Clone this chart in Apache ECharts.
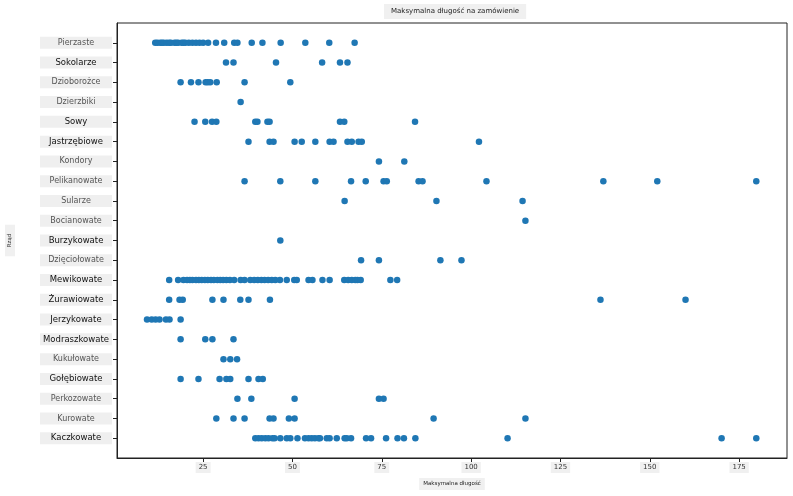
<!DOCTYPE html>
<html>
<head>
<meta charset="utf-8">
<title>Maksymalna długość na zamówienie</title>
<script src="https://cdn.jsdelivr.net/npm/echarts@6/dist/echarts.min.js"></script>
<style>
	html, body { margin: 0; padding: 0; background: #fff; }
	#chart { width: 793px; height: 496px; }
</style>
</head>
<body>
<div id="chart"></div>
<script>
// rzędy (od góry)
var orders = [ 'Pierzaste', 'Sokolarze', 'Dzioborożce', 'Dzierzbiki', 'Sowy',
		'Jastrzębiowe', 'Kondory', 'Pelikanowate', 'Sularze', 'Bocianowate',
		'Burzykowate', 'Dzięciołowate', 'Mewikowate', 'Żurawiowate',
		'Jerzykowate', 'Modraszkowate', 'Kukułowate', 'Gołębiowate',
		'Perkozowate', 'Kurowate', 'Kaczkowate' ];

// maksymalna długość
var pierzaste = [ 11.6, 12.2, 13, 13.5, 14, 14.8, 15.5, 16, 17, 17.5, 18, 19,
		19.5, 20, 21, 22, 23, 24, 25, 26.4, 28.6, 30.9, 33.7, 34.6, 38.6, 41.6,
		46.7, 53.6, 60.3, 67.4 ];
var sokolarze = [ 31.4, 33.5, 45.4, 58.3, 63.3, 65.4 ];
var dzioborozce = [ 18.7, 21.6, 23.7, 25.7, 26.3, 27.0, 28.8, 36.6, 49.4 ];
var dzierzbiki = [ 35.5 ];
var sowy = [ 22.6, 25.6, 27.5, 28.7, 39.6, 40.2, 43.0, 43.6, 63.3, 64.5, 84.3 ];
var jastrzebiowe = [ 37.7, 43.6, 44.7, 50.6, 52.6, 56.4, 60.4, 61.5, 65.4,
		66.6, 68.5, 69.4, 102.2 ];
var kondory = [ 74.2, 81.3 ];
var pelikanowate = [ 36.6, 46.6, 56.4, 66.4, 70.5, 75.5, 76.4, 85.3, 86.4,
		104.3, 137.0, 152.1, 179.8 ];
var sularze = [ 64.6, 90.3, 114.4 ];
var bocianowate = [ 115.2 ];
var burzykowate = [ 46.6 ];
var dzieciolowate = [ 69.2, 74.2, 91.4, 97.3 ];
var mewikowate = [ 15.5, 18.0, 19.5, 20.5, 21.3, 22, 23, 23.8, 24.6, 25.5,
		26.3, 27.2, 28, 29, 29.8, 30.6, 31.5, 32.5, 33.7, 35.5, 36.6, 38.2,
		39.3, 40.3, 41.3, 42.2, 43.2, 44.2, 45.2, 46.5, 48.4, 50.5, 51.2, 54.5,
		55.6, 58.4, 60.4, 64.5, 65.6, 66.6, 67.6, 68.2, 69.1, 77.4, 79.3 ];
var zurawiowate = [ 15.5, 18.4, 19.3, 27.6, 30.7, 35.4, 37.7, 43.7, 136.2,
		160.0 ];
var jerzykowate = [ 9.3, 10.6, 11.7, 12.8, 14.6, 15.6, 18.7 ];
var modraszkowate = [ 18.7, 25.6, 27.6, 33.5 ];
var kukulowate = [ 30.7, 32.6, 34.5 ];
var golebiowate = [ 18.7, 23.7, 29.6, 31.5, 32.6, 37.7, 40.5, 41.7 ];
var perkozowate = [ 34.6, 38.5, 50.6, 74.2, 75.5 ];
var kurowate = [ 28.7, 33.5, 36.6, 43.6, 44.7, 49.0, 50.6, 89.5, 115.2 ];
var kaczkowate = [ 39.6, 40.5, 41.4, 42.4, 43.3, 44.4, 45.0, 46.6, 48.4,
		49.4, 51.4, 53.5, 54.5, 55.4, 56.3, 57.3, 57.7, 59.6, 60.4, 62.4, 64.6,
		65.2, 66.4, 70.6, 72.0, 76.2, 79.4, 81.2, 84.4, 110.2, 170.1, 179.8 ];

var orderValues = [ pierzaste, sokolarze, dzioborozce, dzierzbiki, sowy,
		jastrzebiowe, kondory, pelikanowate, sularze, bocianowate, burzykowate,
		dzieciolowate, mewikowate, zurawiowate, jerzykowate, modraszkowate,
		kukulowate, golebiowate, perkozowate, kurowate, kaczkowate ];

var xTicks = [ 25, 50, 75, 100, 125, 150, 175 ];

// etykiety pisane ciemniej / większe
var darkLabels = [ 'Sokolarze', 'Sowy', 'Jastrzębiowe', 'Burzykowate',
		'Mewikowate', 'Żurawiowate', 'Jerzykowate', 'Modraszkowate',
		'Gołębiowate', 'Kaczkowate' ];

function set_scatter_chart() {
	var chart = echarts.init(document.getElementById('chart'));
	var points = new Array();
	var yTicks = new Array();
	for (var i = 0; i < orders.length; i++) {
		yTicks.push(i);
		for (var j = 0; j < orderValues[i].length; j++) {
			points.push([ orderValues[i][j], i ]);
		}
	}
	var font = 'DejaVu Sans';
	var option = {
		backgroundColor : '#ffffff',
		animation : false,
		title : {
			text : 'Maksymalna długość na zamówienie',
			left : 384,
			top : 4,
			padding : [ 4, 7 ],
			backgroundColor : '#f0f0f0',
			textStyle : {
				fontFamily : font,
				fontSize : 7,
				fontWeight : 'normal',
				color : '#222'
			}
		},
		grid : {
			left : 117,
			right : 6,
			top : 23,
			bottom : 38,
			outerBoundsMode : 'none',
			show : true,
			borderColor : '#222',
			borderWidth : 1
		},
		xAxis : {
			type : 'value',
			min : 0.9,
			max : 188.4,
			name : 'Maksymalna długość',
			nameLocation : 'middle',
			nameGap : 15,
			nameTextStyle : {
				fontFamily : font,
				fontSize : 5.5,
				color : '#222',
				backgroundColor : '#f0f0f0',
				padding : [ 3, 4 ]
			},
			splitLine : {
				show : false
			},
			axisLine : {
				onZero : false,
				lineStyle : {
					color : '#222',
					width : 1
				}
			},
			axisTick : {
				customValues : xTicks,
				length : 4,
				lineStyle : {
					color : '#222'
				}
			},
			axisLabel : {
				customValues : xTicks,
				margin : 4,
				fontFamily : font,
				fontSize : 7,
				color : '#333',
				backgroundColor : '#f0f0f0',
				padding : [ 2, 3 ]
			}
		},
		yAxis : {
			type : 'value',
			inverse : true,
			min : -1,
			max : 21,
			name : 'Rząd',
			nameLocation : 'middle',
			nameGap : 102,
			nameTextStyle : {
				fontFamily : font,
				fontSize : 5.5,
				color : '#333',
				backgroundColor : '#f0f0f0',
				padding : [ 2, 9 ]
			},
			splitLine : {
				show : false
			},
			axisLine : {
				onZero : false,
				lineStyle : {
					color : '#222',
					width : 1
				}
			},
			axisTick : {
				customValues : yTicks,
				length : 4,
				lineStyle : {
					color : '#222'
				}
			},
			axisLabel : {
				customValues : yTicks,
				margin : 5,
				formatter : function(v) {
					var name = orders[v];
					if (name === undefined) {
						return '';
					}
					return darkLabels.indexOf(name) >= 0 ? '{b|' + name + '}'
							: '{a|' + name + '}';
				},
				rich : {
					a : {
						fontFamily : font,
						fontSize : 8,
						color : '#555',
						width : 72,
						height : 12,
						align : 'center',
						backgroundColor : '#efefef'
					},
					b : {
						fontFamily : font,
						fontSize : 8.5,
						color : '#111',
						width : 72,
						height : 12,
						align : 'center',
						backgroundColor : '#efefef'
					}
				}
			}
		},
		series : [ {
			type : 'scatter',
			symbol : 'circle',
			symbolSize : 6.5,
			itemStyle : {
				color : '#1f77b4',
				opacity : 1
			},
			data : points
		} ]
	};
	chart.setOption(option);
}

set_scatter_chart();
</script>
</body>
</html>
